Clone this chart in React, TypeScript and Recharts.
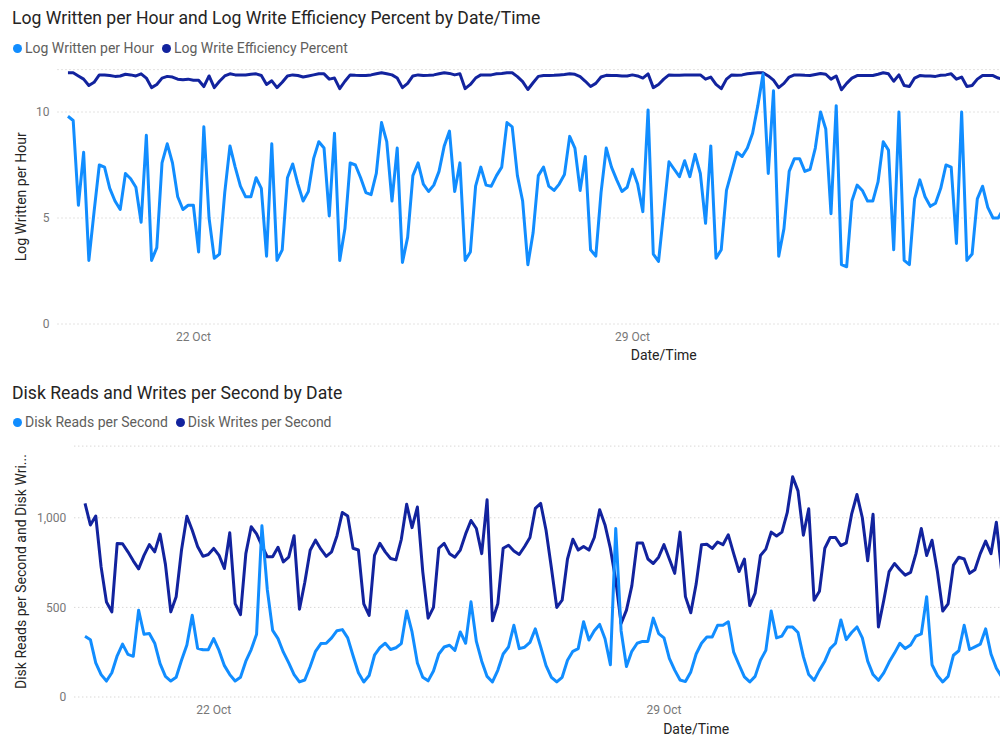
import React from 'react';
import { LineChart, Line, XAxis, YAxis, CartesianGrid } from 'recharts';

// readings every 2 hours, starting 20 Oct 00:00
const STEP_HOURS = 2;

const dateTickHours = [48, 216];
const dateTickLabels = ['22 Oct', '29 Oct'];

const logWrittenPerHour = [
  9.8, 9.6, 5.6, 8.1, 3.0, 5.3, 7.5, 7.4, 6.4, 5.8,
  5.4, 7.1, 6.85, 6.45, 4.8, 8.9, 3.0, 3.6, 7.6, 8.5,
  7.6, 6.0, 5.4, 5.6, 5.6, 3.4, 9.3, 5.0, 3.1, 3.3,
  6.2, 8.4, 7.4, 6.5, 6.0, 6.0, 6.9, 6.4, 3.2, 8.5,
  3.0, 3.5, 6.9, 7.55, 6.6, 5.8, 6.25, 7.8, 8.6, 8.3,
  5.1, 9.0, 3.0, 4.5, 7.6, 7.5, 6.9, 6.2, 6.1, 7.1,
  9.5, 8.6, 5.8, 8.3, 2.9, 4.1, 7.0, 7.6, 6.6, 6.25,
  6.55, 7.2, 8.4, 9.1, 6.25, 7.6, 3.0, 3.4, 6.5, 7.4,
  6.55, 6.5, 7.0, 7.4, 9.5, 9.3, 7.0, 5.8, 2.8, 4.3,
  7.0, 7.4, 6.5, 6.3, 6.6, 7.05, 8.85, 8.3, 6.3, 7.9,
  3.5, 3.2, 6.2, 8.3, 7.4, 6.8, 6.25, 6.45, 7.3, 6.6,
  5.3, 10.1, 3.3, 2.95, 5.3, 7.65, 7.3, 6.95, 7.7, 6.95,
  8.0, 7.1, 4.75, 8.4, 3.1, 3.5, 6.3, 7.2, 8.1, 7.9,
  8.3, 9.0, 10.3, 11.8, 7.1, 11.0, 3.2, 4.5, 7.2, 7.8,
  7.8, 7.2, 7.3, 8.3, 10.0, 9.2, 5.2, 10.3, 2.8, 2.7,
  5.8, 6.55, 6.3, 5.8, 5.8, 6.7, 8.6, 8.2, 3.5, 10.0,
  3.0, 2.8, 5.9, 6.8, 6.0, 5.55, 5.7, 6.4, 7.5, 7.4,
  3.8, 10.0, 3.0, 3.3, 5.9, 6.5, 5.5, 5.0, 5.0, 5.45,
];

const logWriteEfficiency = [
  11.85, 11.85, 11.7, 11.55, 11.25, 11.4, 11.75, 11.75, 11.72, 11.68,
  11.7, 11.78, 11.75, 11.7, 11.8, 11.6, 11.15, 11.3, 11.6, 11.68,
  11.65, 11.55, 11.52, 11.55, 11.5, 11.5, 11.2, 11.7, 11.15, 11.45,
  11.7, 11.8, 11.75, 11.75, 11.75, 11.78, 11.8, 11.72, 11.3, 11.47,
  11.15, 11.4, 11.7, 11.75, 11.72, 11.65, 11.7, 11.75, 11.8, 11.8,
  11.55, 11.6, 11.1, 11.45, 11.75, 11.73, 11.72, 11.72, 11.75, 11.8,
  11.85, 11.8, 11.75, 11.6, 11.15, 11.35, 11.7, 11.75, 11.72, 11.73,
  11.75, 11.8, 11.85, 11.82, 11.75, 11.8, 11.1, 11.3, 11.6, 11.75,
  11.75, 11.75, 11.8, 11.82, 11.85, 11.85, 11.67, 11.43, 11.06, 11.38,
  11.68, 11.72, 11.72, 11.73, 11.75, 11.77, 11.8, 11.78, 11.67, 11.45,
  11.2, 11.35, 11.65, 11.73, 11.72, 11.72, 11.7, 11.7, 11.75, 11.7,
  11.6, 11.8, 11.15, 11.3, 11.55, 11.75, 11.73, 11.73, 11.74, 11.75,
  11.75, 11.75, 11.55, 11.65, 11.3, 11.1, 11.55, 11.75, 11.73, 11.75,
  11.8, 11.83, 11.85, 11.85, 11.7, 11.5, 11.15, 11.35, 11.65, 11.75,
  11.75, 11.73, 11.72, 11.77, 11.82, 11.78, 11.55, 11.7, 11.05, 11.35,
  11.6, 11.72, 11.72, 11.72, 11.72, 11.78, 11.85, 11.8, 11.45, 11.75,
  11.25, 11.2, 11.6, 11.72, 11.7, 11.7, 11.68, 11.73, 11.75, 11.8,
  11.55, 11.65, 11.2, 11.25, 11.55, 11.72, 11.72, 11.72, 11.6, 11.55,
];

const diskReadsPerSecond = [
  339, 320, 190, 125, 89, 135, 230, 295, 238, 227,
  484, 350, 354, 300, 186, 115, 89, 110, 205, 290,
  456, 272, 264, 264, 326, 260, 175, 125, 89, 110,
  200, 265, 350, 955, 600, 372, 326, 250, 190, 125,
  84, 95, 170, 255, 298, 300, 330, 370, 376, 330,
  230, 135, 84, 120, 233, 275, 300, 265, 275, 298,
  480, 363, 190, 110, 90, 145, 240, 279, 289, 260,
  363, 300, 531, 310, 200, 115, 84, 149, 240, 279,
  400, 270, 278, 305, 380, 280, 175, 110, 84, 110,
  205, 255, 270, 420, 318, 370, 405, 325, 180, 940,
  370, 170, 255, 300, 310, 310, 440, 354, 330, 215,
  150, 95, 86, 140, 240, 300, 335, 335, 400, 400,
  420, 250, 180, 112, 84, 115, 205, 260, 480, 330,
  340, 390, 390, 360, 225, 125, 93, 150, 200, 270,
  300, 430, 320, 360, 391, 330, 200, 125, 93, 135,
  195, 245, 300, 270, 290, 340, 352, 560, 180, 120,
  84, 115, 233, 258, 400, 265, 280, 295, 380, 240,
  160, 112,
];

const diskWritesPerSecond = [
  1080, 960, 1010, 726, 530, 475, 857, 855, 810, 760,
  715, 790, 850, 810, 909, 740, 475, 560, 820, 1009,
  930, 840, 785, 795, 829, 790, 717, 916, 521, 460,
  800, 950, 910, 845, 782, 782, 835, 754, 780, 900,
  490, 640, 819, 875, 825, 785, 810, 900, 1030, 1010,
  830, 820, 520, 455, 790, 857, 810, 773, 765, 880,
  1075, 945, 1060, 700, 440, 500, 830, 857, 800, 780,
  820, 910, 985, 940, 800, 1100, 425, 520, 830, 847,
  815, 795, 840, 890, 1052, 1080, 930, 720, 500, 540,
  770, 880, 820, 840, 820, 890, 1045, 960, 829, 652,
  410, 485, 620, 860, 860, 770, 745, 780, 850, 770,
  690, 920, 560, 470, 630, 850, 852, 829, 865, 850,
  905, 800, 700, 770, 510, 580, 790, 825, 920, 898,
  920, 1030, 1229, 1150, 903, 1050, 540, 590, 830, 890,
  890, 845, 860, 1020, 1130, 1000, 760, 1020, 391, 540,
  700, 745, 710, 680, 695, 800, 940, 790, 875, 700,
  480, 520, 736, 780, 770, 690, 710, 800, 870, 800,
  975, 700,
];

const logData = logWrittenPerHour.map((written, i) => ({
  hour: i * STEP_HOURS,
  written,
  efficiency: logWriteEfficiency[i],
}));

const diskData = diskReadsPerSecond.map((reads, i) => ({
  hour: i * STEP_HOURS,
  reads,
  writes: diskWritesPerSecond[i],
}));

const LIGHT = '#118DFF';
const DARK = '#12239E';
const FONT = "'Segoe UI', Roboto, sans-serif";

const dateLabel = (h: number) => dateTickLabels[dateTickHours.indexOf(h)] ?? '';
const thousands = (v: number) => v.toLocaleString('en-US');

const tickStyle = { fill: '#777777', fontSize: 12 };

const Legend = ({ items, top }: { items: { name: string; color: string }[]; top: number }) => (
  <div style={{ position: 'absolute', left: 13, top, display: 'flex', alignItems: 'center', height: 20, fontSize: 14, color: '#605E5C' }}>
    {items.map((it) => (
      <div key={it.name} style={{ display: 'flex', alignItems: 'center', marginRight: 8 }}>
        <span style={{ width: 9, height: 9, borderRadius: '50%', background: it.color, marginRight: 3, display: 'inline-block' }} />
        <span>{it.name}</span>
      </div>
    ))}
  </div>
);

const Title = ({ text, top }: { text: string; top: number }) => (
  <div style={{ position: 'absolute', left: 12, top, fontSize: 17.6, lineHeight: '20px', color: '#252423', whiteSpace: 'nowrap' }}>
    {text}
  </div>
);

export default function App() {
  return (
    <div style={{ position: 'absolute', left: 0, top: 0, width: 1000, height: 750, overflow: 'hidden', background: '#fff', fontFamily: FONT }}>
      <Title text="Log Written per Hour and Log Write Efficiency Percent by Date/Time" top={8} />
      <Legend top={38} items={[{ name: 'Log Written per Hour', color: LIGHT }, { name: 'Log Write Efficiency Percent', color: DARK }]} />

      <div style={{ position: 'absolute', left: 0, top: 0 }}>
        <LineChart width={1270} height={364} data={logData} margin={{ top: 69.6, right: 0, bottom: 0, left: 0 }}>
          <CartesianGrid vertical={false} stroke="#C8C6C4" strokeDasharray="1 3" />
          <XAxis
            dataKey="hour"
            type="number"
            domain={[-4, 460]}
            ticks={dateTickHours}
            tickFormatter={dateLabel}
            axisLine={false}
            tickLine={false}
            height={40}
            tick={tickStyle}
            label={{ value: 'Date/Time', position: 'insideBottom', offset: 4, fill: '#252423', fontSize: 14 }}
          />
          <YAxis
            width={57.5}
            domain={[0, 12]}
            ticks={[0, 5, 10]}
            axisLine={false}
            tickLine={false}
            tick={tickStyle}
            label={{ value: 'Log Written per Hour', angle: -90, position: 'insideLeft', offset: 21, fill: '#252423', fontSize: 14, style: { textAnchor: 'middle' } }}
          />
          <Line type="linear" dataKey="efficiency" stroke={DARK} strokeWidth={3} dot={false} isAnimationActive={false} strokeLinejoin="round" />
          <Line type="linear" dataKey="written" stroke={LIGHT} strokeWidth={3} dot={false} isAnimationActive={false} strokeLinejoin="round" />
        </LineChart>
      </div>

      <Title text="Disk Reads and Writes per Second by Date" top={383} />
      <Legend top={412} items={[{ name: 'Disk Reads per Second', color: LIGHT }, { name: 'Disk Writes per Second', color: DARK }]} />

      <div style={{ position: 'absolute', left: 0, top: 380 }}>
        <LineChart width={1318} height={357} data={diskData} margin={{ top: 66.1, right: 0, bottom: 0, left: 0 }}>
          <CartesianGrid vertical={false} stroke="#C8C6C4" strokeDasharray="1 3" />
          <XAxis
            dataKey="hour"
            type="number"
            domain={[-4, 460]}
            ticks={dateTickHours}
            tickFormatter={dateLabel}
            axisLine={false}
            tickLine={false}
            height={40}
            tick={tickStyle}
            label={{ value: 'Date/Time', position: 'insideBottom', offset: 3, fill: '#252423', fontSize: 14 }}
          />
          <YAxis
            width={74.3}
            domain={[0, 1400]}
            ticks={[0, 500, 1000]}
            tickFormatter={thousands}
            axisLine={false}
            tickLine={false}
            tick={tickStyle}
            label={{ value: 'Disk Reads per Second and Disk Wri...', angle: -90, position: 'insideLeft', offset: 21, fill: '#252423', fontSize: 14, style: { textAnchor: 'middle' } }}
          />
          <Line type="linear" dataKey="writes" stroke={DARK} strokeWidth={3} dot={false} isAnimationActive={false} strokeLinejoin="round" />
          <Line type="linear" dataKey="reads" stroke={LIGHT} strokeWidth={3} dot={false} isAnimationActive={false} strokeLinejoin="round" />
        </LineChart>
      </div>
    </div>
  );
}
